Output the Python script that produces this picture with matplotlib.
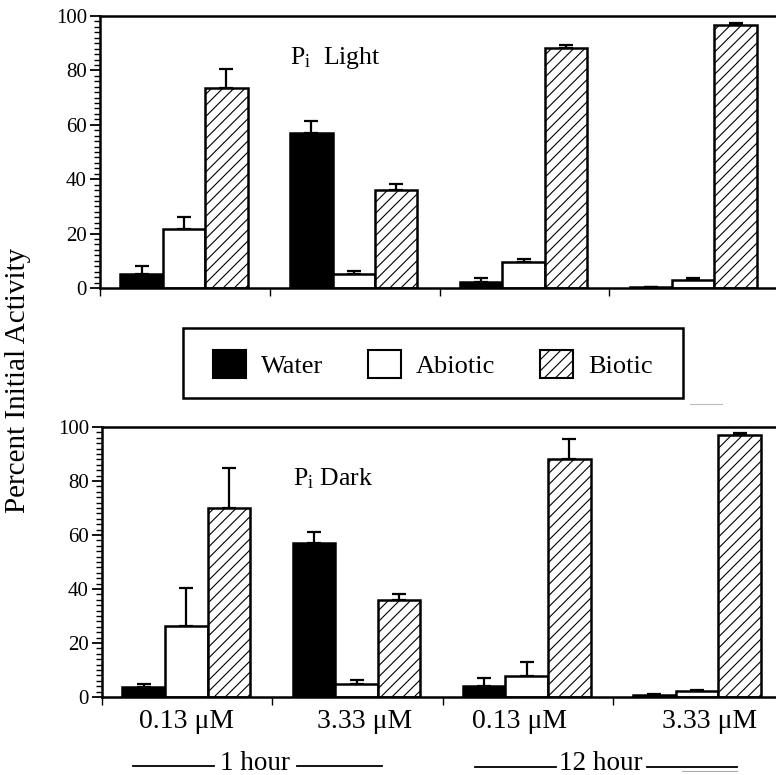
import matplotlib
matplotlib.use("Agg")
import matplotlib.pyplot as plt
import numpy as np
from matplotlib.patches import Patch, Rectangle
from matplotlib.lines import Line2D
import matplotlib.transforms as mtransforms

plt.rcParams['font.family'] = ['Liberation Serif', 'DejaVu Serif']
plt.rcParams['mathtext.fontset'] = 'custom'
plt.rcParams['mathtext.rm'] = 'Liberation Serif'
plt.rcParams['mathtext.it'] = 'Liberation Serif:italic'
plt.rcParams['hatch.linewidth'] = 0.8

series = ['Water', 'Abiotic', 'Biotic']
group_labels = ['0.13 \u03bcM', '3.33 \u03bcM', '0.13 \u03bcM', '3.33 \u03bcM']
time_labels = ['1 hour', '12 hour']

light_water = [5.0, 57.0, 2.3, 0.5]
light_water_err = [3.0, 4.3, 1.2, 0.0]
light_abiotic = [21.8, 5.0, 9.6, 2.9]
light_abiotic_err = [4.3, 1.2, 0.9, 0.6]
light_biotic = [73.5, 36.0, 88.2, 96.8]
light_biotic_err = [7.0, 2.2, 1.3, 0.6]

dark_water = [3.8, 57.0, 3.9, 0.7]
dark_water_err = [1.0, 4.2, 3.1, 0.5]
dark_abiotic = [26.3, 4.9, 7.9, 2.3]
dark_abiotic_err = [14.2, 1.3, 5.1, 0.4]
dark_biotic = [70.0, 36.0, 88.3, 97.2]
dark_biotic_err = [15.0, 2.1, 7.4, 0.4]

fig = plt.figure(figsize=(7.76, 7.75), dpi=100)

W, H = 776.0, 775.0
def ax_rect(left, right, y0, y100):
    return [left / W, 1 - y0 / H, (right - left) / W, (y0 - y100) / H]

ax1 = fig.add_axes(ax_rect(100, 779, 288, 16))
ax2 = fig.add_axes(ax_rect(102, 783, 697, 427))

fills = ['black', 'white', 'white']
hatches = [None, None, '///']
bw = 0.25
offs = [0.245, 0.495, 0.745]

def draw(ax, vals, errs, title):
    x = np.arange(4)
    for k in range(3):
        v = vals[k]
        e = errs[k]
        ax.bar(x + offs[k], v, width=bw, color=fills[k], edgecolor='black',
               linewidth=1.8, hatch=hatches[k], zorder=2)
        ax.errorbar(x + offs[k], v, yerr=[np.zeros(4), e], fmt='none',
                    ecolor='black', elinewidth=1.6, capsize=4.8, capthick=1.6, zorder=1)
    ax.set_xlim(0, 4)
    ax.set_ylim(0, 100)
    ax.set_yticks([0, 20, 40, 60, 80, 100])
    ax.set_yticks(np.arange(0, 101, 2), minor=True)
    ax.set_xticks([0, 1, 2, 3, 4])
    ax.set_xticklabels([])
    ax.tick_params(axis='y', which='major', direction='out', length=7.5, width=1.3,
                   labelsize=15, pad=2)
    ax.tick_params(axis='y', which='minor', direction='out', length=4.5, width=1.0)
    ax.tick_params(axis='x', which='major', direction='out', length=6, width=1.0)
    for s in ['left', 'top', 'bottom']:
        ax.spines[s].set_linewidth(1.8)
    ax.spines['right'].set_visible(False)
    ax.text(1.12, title[1], title[0], fontsize=18.5, transform=ax.transData,
            ha='left', va='center')

draw(ax1, [light_water, light_abiotic, light_biotic],
     [light_water_err, light_abiotic_err, light_biotic_err],
     (r'P$_\mathrm{i}$  Light', 84.5))
draw(ax2, [dark_water, dark_abiotic, dark_biotic],
     [dark_water_err, dark_abiotic_err, dark_biotic_err],
     (r'P$_\mathrm{i}$ Dark', 81))

# x group labels on bottom panel
trans = mtransforms.blended_transform_factory(ax2.transData, fig.transFigure)
label_x = [0.499, 1.544, 2.455, 3.57]
for lx, lab in zip(label_x, group_labels):
    ax2.text(lx, 1 - 728 / H, lab, transform=trans, ha='center', va='baseline',
             fontsize=20)

# time labels with lines
def pxl(x0, x1, y, color='black', lw=1.3):
    fig.add_artist(Line2D([x0 / W, x1 / W], [1 - y / H, 1 - y / H],
                          transform=fig.transFigure, color=color, linewidth=lw))

fig.text(255 / W, 1 - 770 / H, time_labels[0], ha='center', va='baseline', fontsize=19.5)
pxl(133, 214, 766)
pxl(297, 382, 766)
fig.text(601 / W, 1 - 770 / H, time_labels[1], ha='center', va='baseline', fontsize=19.5)
pxl(475, 556, 767)
pxl(647, 737, 767)
pxl(682, 737, 770.5, color='#aaaaaa', lw=0.8)

# y label
fig.text(18 / W, 1 - 380 / H, 'Percent Initial Activity', rotation=90,
         ha='center', va='center', fontsize=21)

# legend
handles = [Patch(facecolor=fills[k], edgecolor='black', hatch=hatches[k], linewidth=1.5)
           for k in range(3)]
leg = fig.legend(handles, series, ncol=3, loc='center',
                 bbox_to_anchor=(433 / W, 1 - 364 / H), frameon=False,
                 fontsize=19, handlelength=1.25, handleheight=1.25, handletextpad=0.57,
                 columnspacing=1.7, borderpad=0.0, borderaxespad=0)
fig.add_artist(Rectangle((183 / W, 1 - 398 / H), 500 / W, 70 / H,
                         transform=fig.transFigure, fill=False, edgecolor='black',
                         linewidth=1.8))
pxl(690, 722, 404, color='#bbbbbb', lw=0.8)

fig.savefig('out.png', dpi=100)
